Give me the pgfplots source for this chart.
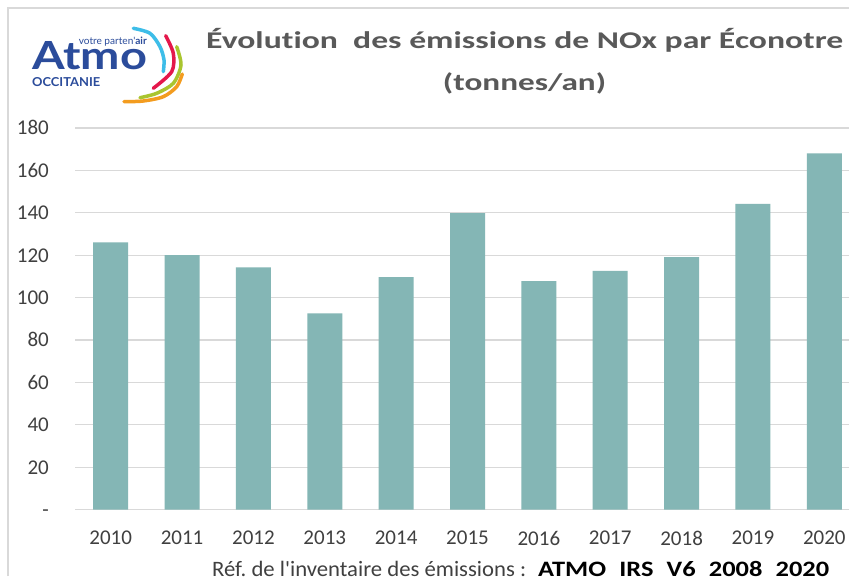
\documentclass[border=0pt]{standalone}
\usepackage{fontspec}
\setmainfont{Carlito}[Ligatures={TeXOff,NoCommon}]
\newfontfamily\logofont{Lato}[Ligatures={TeXOff}]
\usepackage{graphicx}
\usepackage{pgfplots}
\pgfplotsset{compat=1.18}
\definecolor{barc}{RGB}{132,182,181}
\definecolor{gridc}{RGB}{217,217,217}
\definecolor{titlec}{RGB}{89,89,89}
\definecolor{tickc}{RGB}{64,64,64}
\definecolor{atmoblue}{RGB}{43,76,155}
\definecolor{lcyan}{RGB}{61,189,232}
\definecolor{lred}{RGB}{228,23,75}
\definecolor{lgreen}{RGB}{169,197,47}
\definecolor{lorange}{RGB}{243,156,31}
\frenchspacing
\begin{document}
\begin{tikzpicture}
\useasboundingbox (0pt,0pt) rectangle (849pt,576pt);
\clip (0pt,0pt) rectangle (849pt,576pt);
\fill[white] (0pt,0pt) rectangle (849pt,576pt);
\draw[gridc, line width=1.5pt] (8pt,0pt) -- (8pt,568pt) -- (849pt,568pt);
\begin{axis}[
  at={(75pt,66.5pt)}, anchor=south west,
  scale only axis, width=785pt, height=381.5pt,
  xmin=-0.5, xmax=10.5, ymin=0, ymax=180,
  ytick={0,20,...,180},
  yticklabels={-,20,40,60,80,100,120,140,160,180},
  xtick={0,...,10},
  xticklabels={2010,2011,2012,2013,2014,2015,2016,2017,2018,2019,2020},
  axis line style={draw=none},
  major tick length=0pt,
  ymajorgrids, grid style={gridc, line width=1.2pt},
  tick label style={font=\fontsize{21}{24}\selectfont, text=tickc, inner sep=0pt},
  yticklabel style={anchor=base east, xshift=-26pt, yshift=-7pt},
  xticklabel style={anchor=north, yshift=-21.5pt},
  clip=false,
]
\addplot[ybar, bar width=35pt, fill=barc, draw=none] coordinates {
(0,126) (1,120) (2,114.2) (3,92.5) (4,109.6) (5,139.8) (6,107.8) (7,112.6) (8,119.1) (9,144.2) (10,168)
};
\end{axis}
% title
\node[anchor=base west, text=titlec, inner sep=0pt] at (206pt,527pt) {\resizebox{637pt}{\height}{\fontsize{24}{29}\selectfont\bfseries Évolution\ \ des émissions de NOx par Éconotre}};
\node[anchor=base, text=titlec, inner sep=0pt] at (524.5pt,485pt) {\resizebox{163pt}{\height}{\fontsize{24}{29}\selectfont\bfseries (tonnes/an)}};
% footer
\node[anchor=base west, inner sep=0pt, text=tickc] at (212pt,-0.8pt) {\resizebox{314pt}{\height}{\fontsize{22}{25}\selectfont Réf. de l'inventaire des émissions :}};
\node[anchor=base west, inner sep=0pt, text=black] at (538pt,-0.8pt) {\resizebox{291pt}{\height}{\fontsize{22}{25}\selectfont\bfseries ATMO\_IRS\_V6\_2008\_2020}};
% logo
\node[anchor=base west, inner sep=0pt, text=atmoblue] at (32pt,506pt) {\resizebox{115pt}{28pt}{\logofont\bfseries Atmo}};
\node[anchor=base east, inner sep=0pt, text=atmoblue] at (147pt,531pt) {\resizebox{68pt}{!}{\logofont votre parten'\textbf{air}}};
\node[anchor=base west, inner sep=0pt, text=atmoblue] at (32pt,489pt) {\resizebox{68pt}{9pt}{\logofont\bfseries OCCITANIE}};
\draw[lcyan, line width=3.5pt, line cap=round] plot[smooth] coordinates {(133.3pt,547.7pt) (150pt,542.7pt) (160pt,529.3pt) (164pt,516pt) (163.3pt,504.3pt)};
\draw[lred, line width=3.5pt, line cap=round] plot[smooth] coordinates {(165.7pt,540.3pt) (173.3pt,522.7pt) (171.7pt,504.3pt) (153.3pt,487.7pt)};
\draw[lgreen, line width=3.5pt, line cap=round] plot[smooth] coordinates {(176.7pt,529.3pt) (181pt,511pt) (173.3pt,492.7pt) (156.7pt,482.7pt) (140pt,478.3pt)};
\draw[lorange, line width=3.5pt, line cap=round] plot[smooth] coordinates {(182.3pt,502pt) (176.7pt,489.3pt) (163.3pt,479.3pt) (143.3pt,475pt) (124pt,474.3pt)};
\end{tikzpicture}
\end{document}
